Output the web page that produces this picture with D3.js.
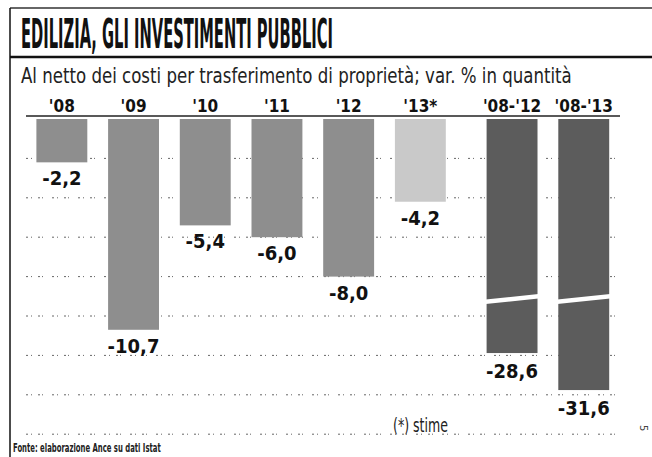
<!DOCTYPE html>
<html>
<head>
<meta charset="utf-8">
<script src="https://cdn.jsdelivr.net/npm/d3@7"></script>
<style>
  html, body { margin: 0; padding: 0; background: #fff; }
  text { font-family: "Liberation Sans Narrow", "DejaVu Sans Condensed", "Roboto", sans-serif; }
</style>
</head>
<body>
<div id="wrapper"></div>
<script>
/// Data ///
const categories = ["'08", "'09", "'10", "'11", "'12", "'13*", "'08-'12", "'08-'13"];
const values = [-2.2, -10.7, -5.4, -6.0, -8.0, -4.2, -28.6, -31.6];
// annual change, estimate, cumulated change
const kinds = ["anno", "anno", "anno", "anno", "anno", "stima", "cumulato", "cumulato"];
const gridTicks = [-2, -4, -6, -8, -10, -12, -14, -16];

const title = "EDILIZIA, GLI INVESTIMENTI PUBBLICI";
const subtitle = "Al netto dei costi per trasferimento di proprietà; var. % in quantità";
const note = "(*) stime";
const source = "Fonte: elaborazione Ance su dati Istat";

/// Dimensions ///
const width = 652;
const height = 457;
const plotLeft = 26;
const plotRight = 620;
const step = 71.7;
const groupGap = 20;   // extra room before the cumulated bars
const breakY = 300;    // where the long bars are cut

const fills = { anno: "#8e8e8e", stima: "#c9c9c9", cumulato: "#5c5c5c" };

const it = d3.formatLocale({ decimal: ",", thousands: ".", grouping: [3], currency: ["", "€"], minus: "-" });
const fmt = it.format(".1f");

const svg = d3.select("#wrapper").append("svg")
  .attr("width", width)
  .attr("height", height);

// squeeze a text horizontally so it spans w pixels from x
const fitText = (sel, x, yy, w) => {
  const natural = sel.node().getComputedTextLength();
  sel.attr("x", 0).attr("y", 0)
    .attr("transform", `translate(${x},${yy}) scale(${w / natural},1)`);
  return sel;
};

/// Scales ///
const x = d3.scaleBand()
  .domain(categories)
  .range([plotLeft, plotLeft + categories.length * step])
  .paddingInner(0.29)
  .paddingOuter(0.145);

const xPos = (c, i) => x(c) + (kinds[i] === "cumulato" ? groupGap : 0);

const y = d3.scaleLinear()
  .domain([0, -16])
  .range([119, 434.2]);

// broken scale for the cumulated bars: same as y down to the cut, then compressed
const yCut = y.invert(breakY);
const yBroken = d3.scaleLinear()
  .domain([0, yCut, -24.3, -35])
  .range([y(0), breakY, breakY, 432]);

const yOf = (v, i) => kinds[i] === "cumulato" ? yBroken(v) : y(v);

const marks = categories.map((c, i) => ({
  cat: c,
  value: values[i],
  kind: kinds[i],
  x: xPos(c, i),
  y0: y(0),
  y1: yOf(values[i], i)
}));

/// Frame ///
svg.append("line")
  .attr("x1", 10).attr("x2", width).attr("y1", 8).attr("y2", 8)
  .attr("stroke", "#333").attr("stroke-width", 1.5);
svg.append("line")
  .attr("x1", 10).attr("x2", 10).attr("y1", 8).attr("y2", height)
  .attr("stroke", "#111").attr("stroke-width", 1.5);
svg.append("line")
  .attr("x1", 10).attr("x2", width).attr("y1", 57).attr("y2", 57)
  .attr("stroke", "#111").attr("stroke-width", 2.5);

/// Titles ///
fitText(svg.append("text")
  .attr("font-size", 40)
  .attr("font-weight", "bold")
  .attr("fill", "#111")
  .text(title), 21, 48, 312);

fitText(svg.append("text")
  .attr("font-size", 21)
  .attr("fill", "#222")
  .text(subtitle), 21, 83, 551);

/// Grid lines (dotted, drawn behind the bars) ///
svg.append("g")
  .selectAll("line")
  .data(gridTicks)
  .join("line")
    .attr("x1", plotLeft)
    .attr("x2", plotRight)
    .attr("y1", d => y(d))
    .attr("y2", d => y(d))
    .attr("stroke", "#666")
    .attr("stroke-width", 1)
    .attr("stroke-dasharray", "2,3,1,6,2,2,1,9");

/// Bars ///
svg.append("g")
  .selectAll("rect")
  .data(marks)
  .join("rect")
    .attr("x", d => d.x)
    .attr("y", d => d.y0)
    .attr("width", x.bandwidth())
    .attr("height", d => d.y1 - d.y0)
    .attr("fill", d => fills[d.kind]);

// slanted white cut across the long bars
svg.append("g")
  .selectAll("polygon")
  .data(marks.filter(d => d.kind === "cumulato"))
  .join("polygon")
    .attr("points", d => {
      const l = d.x - 1, r = d.x + x.bandwidth() + 1;
      return [[l, breakY - 0.5], [r, breakY - 6], [r, breakY - 1.5], [l, breakY + 4]].join(" ");
    })
    .attr("fill", "#fff");

/// Axis line and category labels ///
svg.append("line")
  .attr("x1", plotLeft).attr("x2", plotRight)
  .attr("y1", 116).attr("y2", 116)
  .attr("stroke", "#222").attr("stroke-width", 1.5);

svg.append("g")
  .selectAll("text")
  .data(marks)
  .join("text")
    .attr("x", d => d.x + x.bandwidth() / 2)
    .attr("y", 112)
    .attr("text-anchor", "middle")
    .attr("font-size", 17)
    .attr("font-weight", "bold")
    .attr("fill", "#111")
    .text(d => d.cat);

/// Value labels ///
svg.append("g")
  .selectAll("text")
  .data(marks)
  .join("text")
    .attr("x", d => d.x + x.bandwidth() / 2)
    .attr("y", d => d.y1 + (d.kind === "cumulato" ? 25 : 23))
    .attr("text-anchor", "middle")
    .attr("font-size", 20)
    .attr("font-weight", "bold")
    .attr("fill", "#111")
    .text(d => fmt(d.value));

/// Notes ///
fitText(svg.append("text")
  .attr("font-size", 19)
  .attr("fill", "#222")
  .text(note), 393, 432, 55);

fitText(svg.append("text")
  .attr("font-size", 12)
  .attr("font-weight", "bold")
  .attr("fill", "#222")
  .text(source), 13, 452, 148);

svg.append("text")
  .attr("transform", "translate(640,425) rotate(90)")
  .attr("font-size", 11)
  .attr("fill", "#444")
  .text("5");
</script>
</body>
</html>
